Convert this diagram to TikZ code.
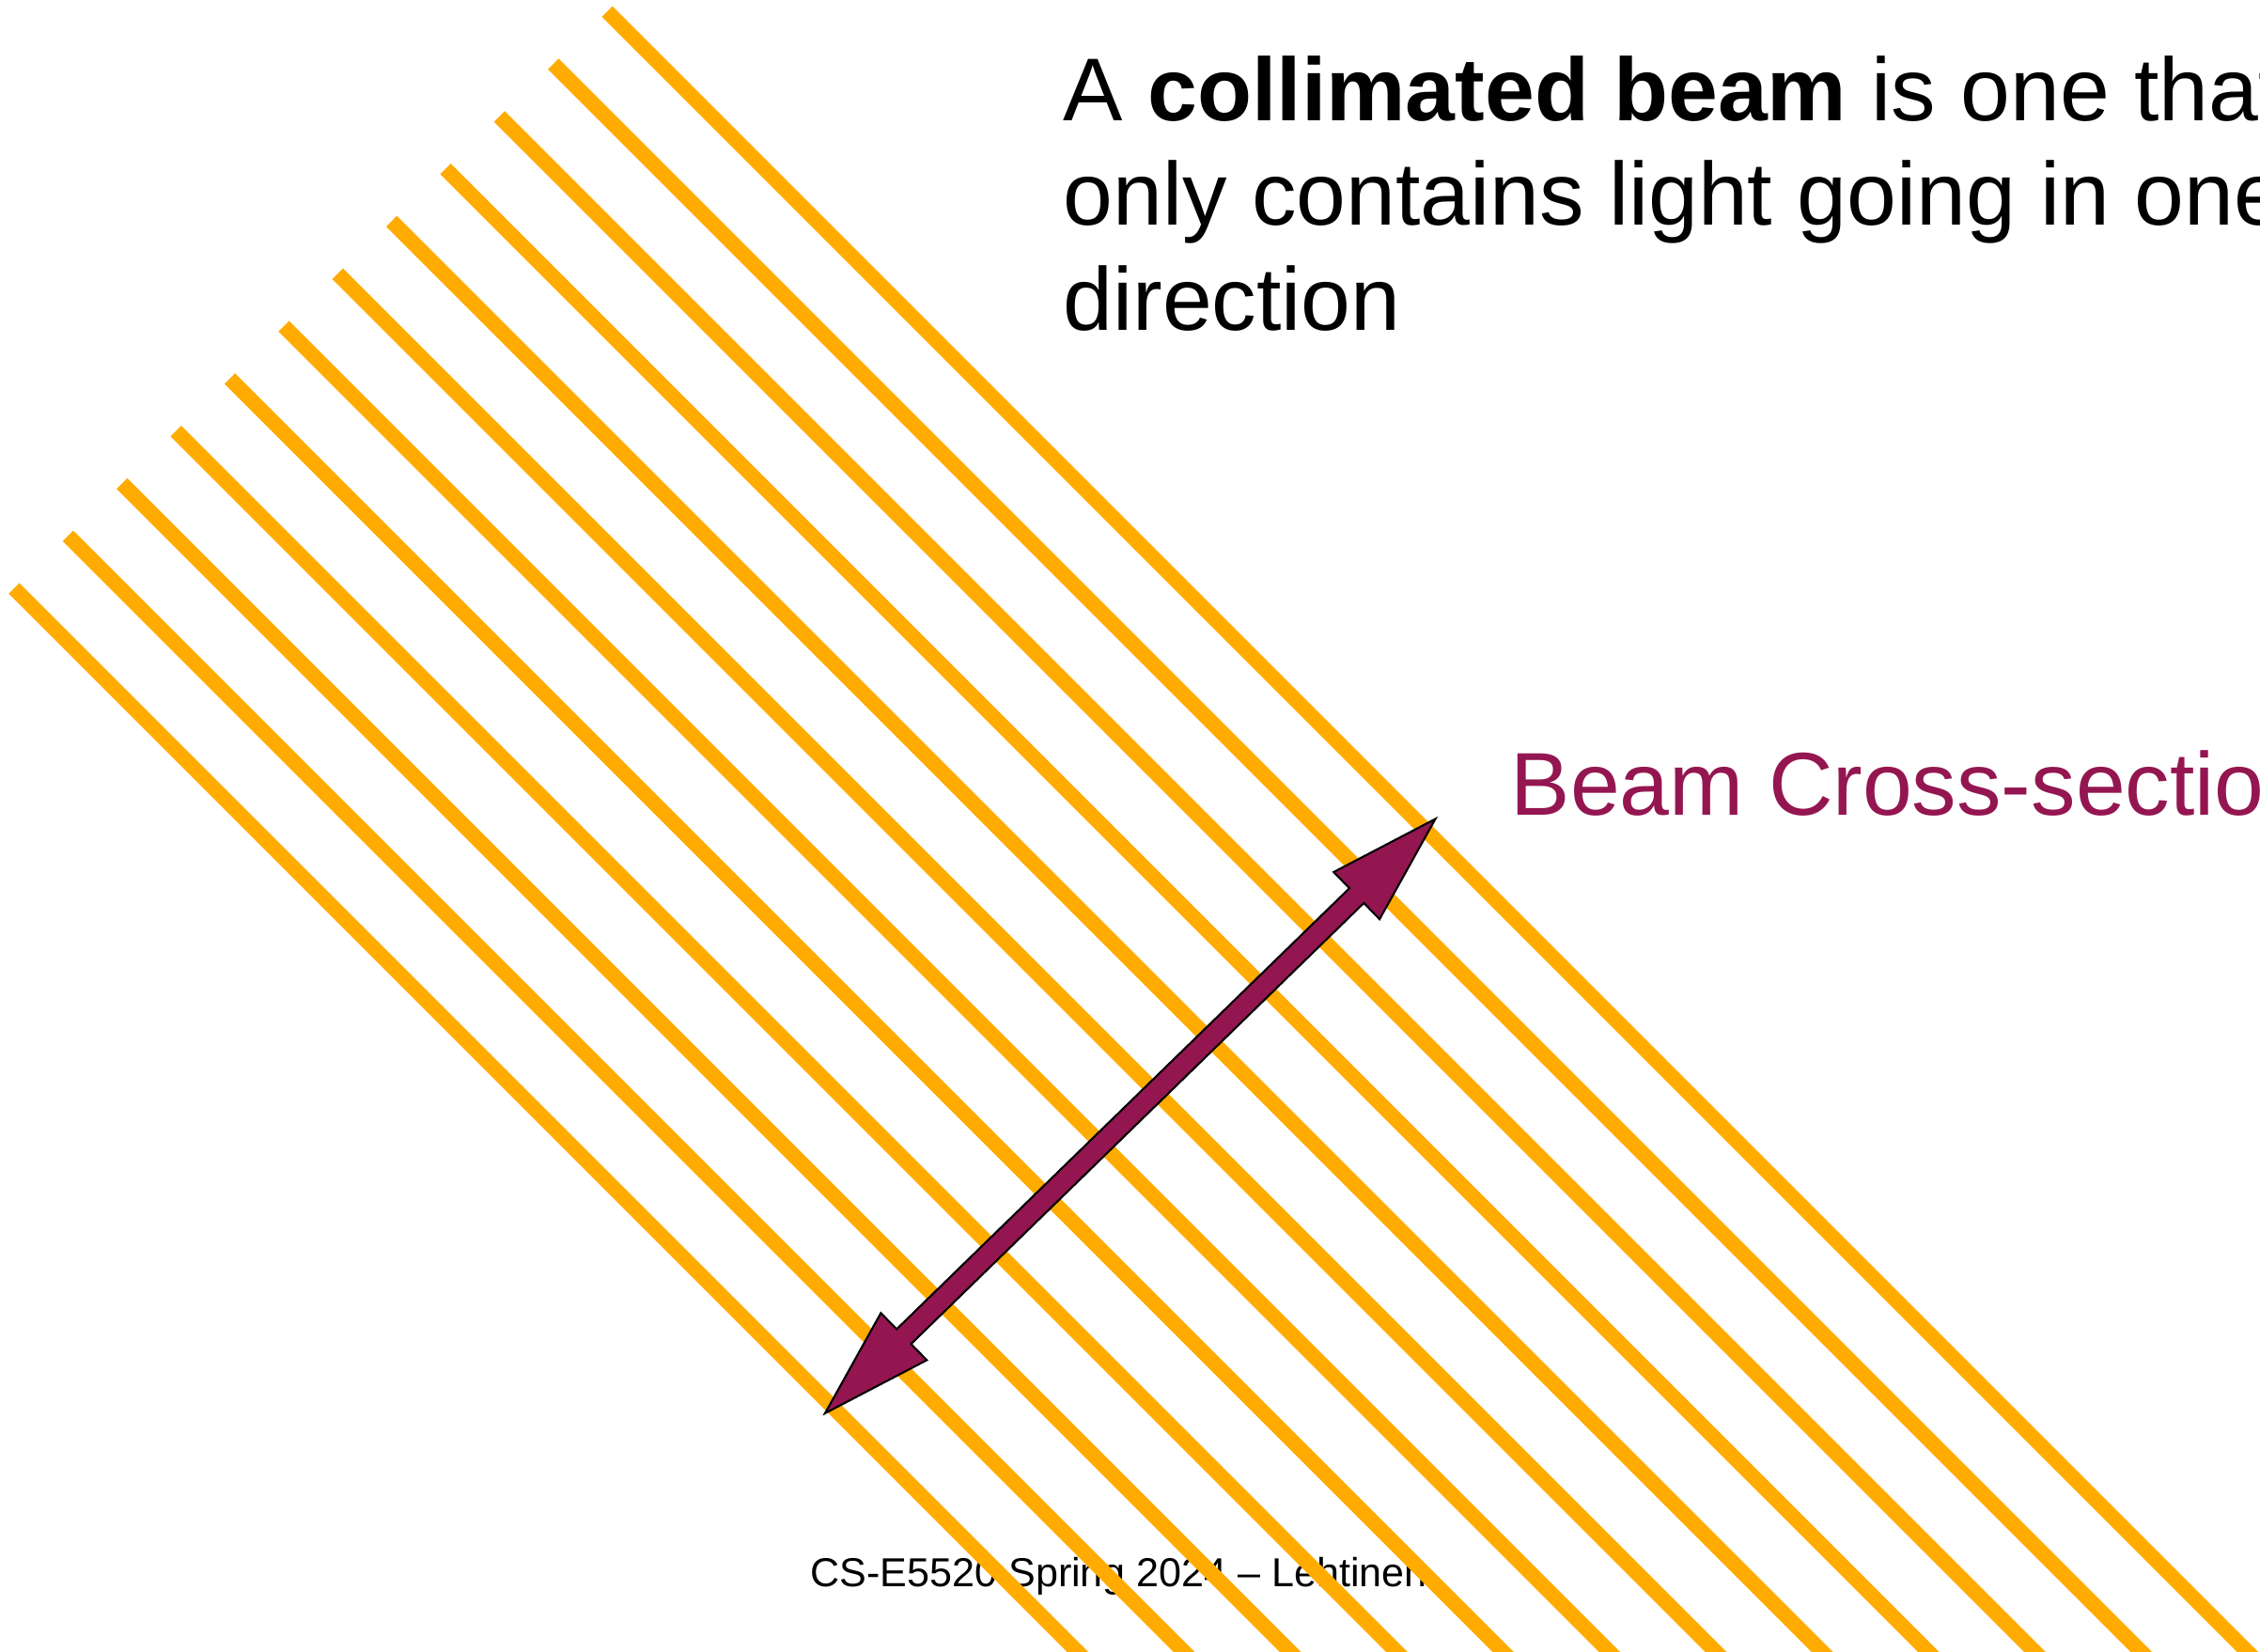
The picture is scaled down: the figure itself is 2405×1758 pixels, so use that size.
\documentclass[tikz,border=0pt]{standalone}
\usepackage{fontspec}
\setmainfont{Liberation Sans}
\usetikzlibrary{positioning}
\definecolor{beamorange}{RGB}{255,171,0}
\definecolor{xsecred}{RGB}{148,22,81}

\begin{document}
\begin{tikzpicture}[
  x=0.01cm, y=-0.01cm,
  ray/.style={draw=beamorange, line width=4.55pt},
  xsec/.style={draw=black, fill=xsecred, line width=0.6pt, line join=miter},
  big/.style={inner sep=0pt, font=\fontsize{27pt}{31.7pt}\selectfont},
  foot/.style={inner sep=0pt, font=\fontsize{12.25pt}{14pt}\selectfont}]
  \useasboundingbox (0,0) rectangle (2405,1758);
  \clip (0,0) rectangle (2405,1758);
  \node[big, anchor=north west, align=left] (def) at (1131,59)
    {A \textbf{collimated beam} is one that\\only contains light going in one\\direction};
  \node[big, anchor=base west, text=xsecred] (xlbl) at (1607,867) {Beam Cross-section};
  \node[foot, anchor=base west] (credit) at (862,1688) {CS-E5520 Spring 2024 – Lehtinen};
  % parallel rays of the beam
  \foreach \i in {0,...,11}
    \draw[ray] ({646.2-57.38*\i},{12.3+55.8*\i}) -- ++(1800,1800);
  % cross-section arrow
  \begin{scope}[shift={(1202.75,1187.7)}, rotate=44.24]
    \draw[xsec] (453.3,0) -- (336.3,35) -- (336.3,11) -- (-336.3,11) -- (-336.3,35)
      -- (-453.3,0) -- (-336.3,-35) -- (-336.3,-11) -- (336.3,-11) -- (336.3,-35) -- cycle;
  \end{scope}
\end{tikzpicture}
\end{document}
